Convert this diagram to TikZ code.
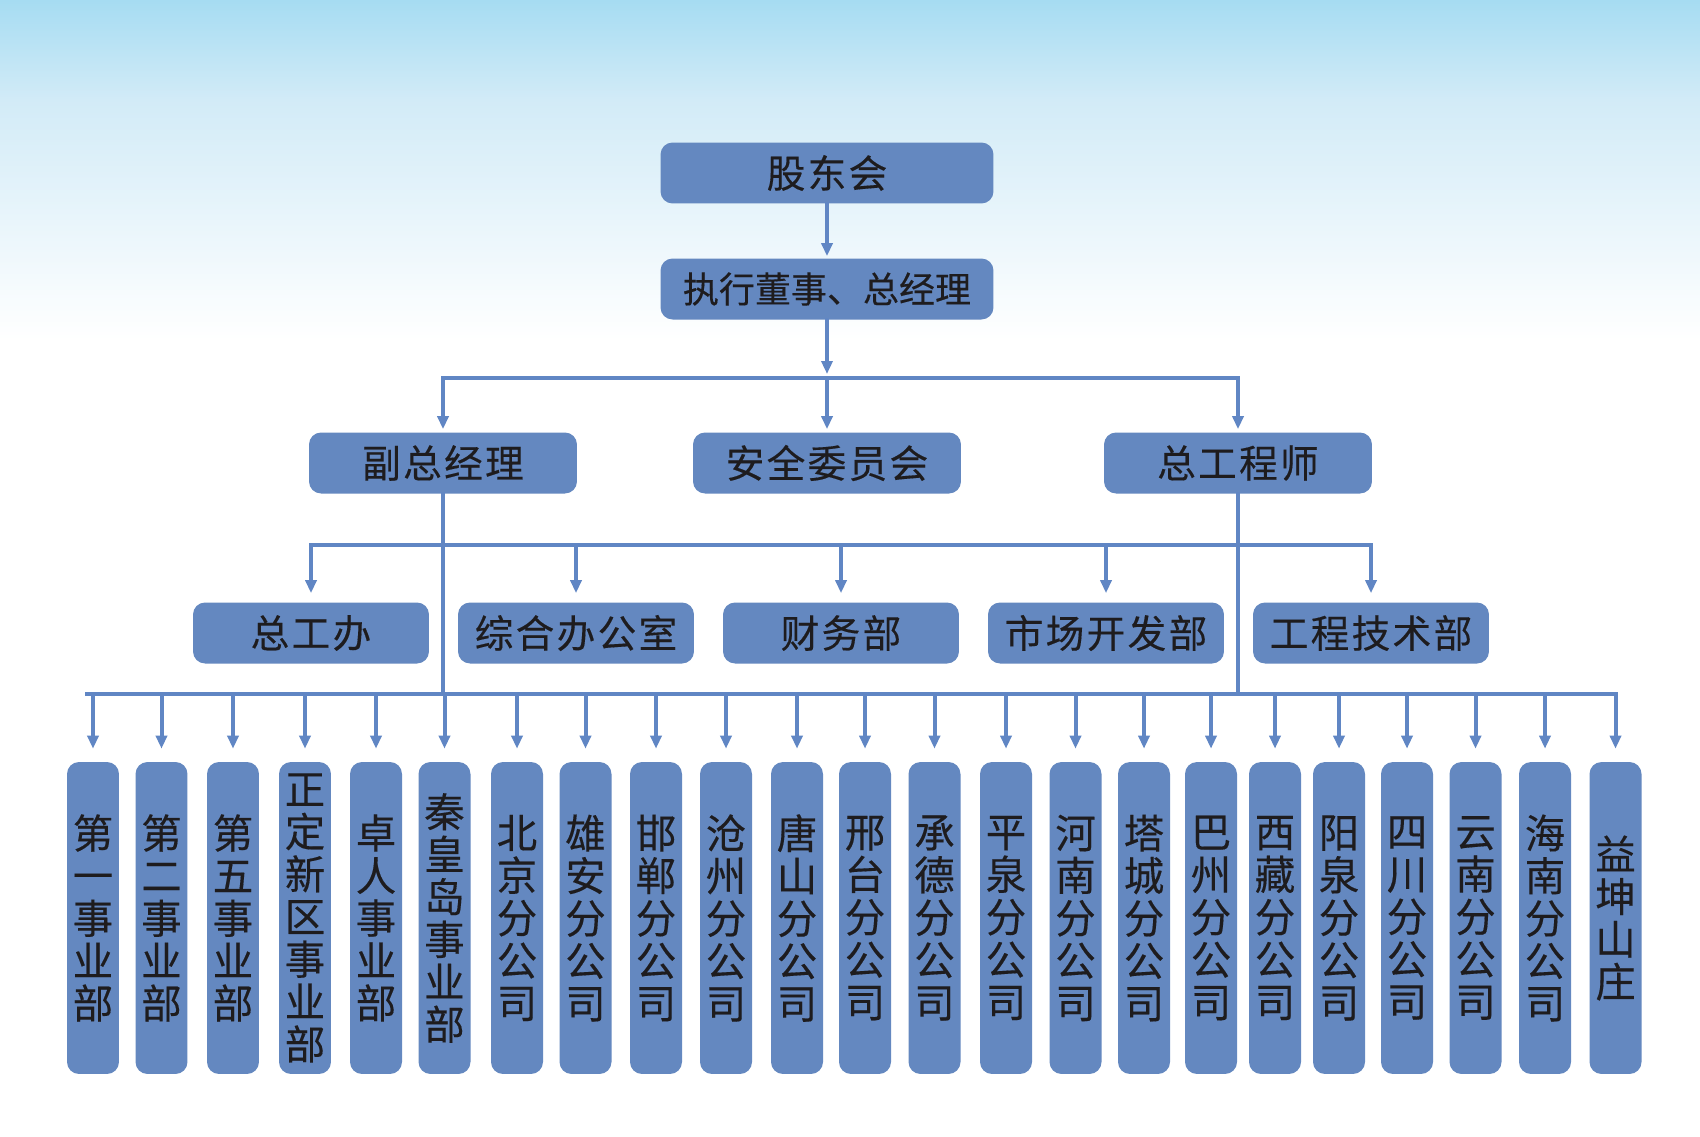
\documentclass[tikz,border=0pt]{standalone}
\usepackage{fontspec}
\newfontfamily\cjk[LetterSpace=6, FakeBold=0.3]{Noto Sans CJK SC}
\newfontfamily\cjkplain[FakeBold=0.3]{Noto Sans CJK SC}
\usepackage{tikz}
\usetikzlibrary{arrows.meta}
\definecolor{orgfill}{RGB}{100, 136, 192}
\definecolor{orgline}{RGB}{96, 134, 196}
\definecolor{skytop}{RGB}{166, 220, 242}
\definecolor{skymid}{RGB}{210, 235, 247}
\definecolor{orgtext}{RGB}{30, 28, 30}

\begin{document}
\begin{tikzpicture}[x=0.02cm, y=-0.02cm,
    orgbox/.style={fill=orgfill, rounded corners=0.24cm, text=orgtext, inner sep=0pt,
      minimum height=1.22cm, font=\cjk\fontsize{22pt}{23pt}\selectfont},
    topbox/.style={orgbox, minimum width=6.66cm},
    midbox/.style={orgbox, minimum width=5.36cm},
    deptbox/.style={orgbox, minimum width=4.72cm},
    unitbox/.style={orgbox, minimum width=1.04cm, minimum height=6.24cm, align=center,
      font=\cjkplain\fontsize{23pt}{24.2pt}\selectfont},
    link/.style={draw=orgline, line width=0.08cm, line cap=rect},
    arr/.style={link, -{Triangle[width=0.22cm, length=0.26cm]}},
  ]
  \useasboundingbox (0,0) rectangle (1700,1136);
  \fill[white] (0,0) rectangle (1700,1136);
  \shade[top color=skytop, bottom color=skymid] (0,0) rectangle (1700,100);
  \shade[top color=skymid, bottom color=white] (0,99) rectangle (1700,340);

  \node[topbox] (gdh) at (827,173) {股东会};
  \node[topbox, font=\cjkplain\fontsize{20.5pt}{21pt}\selectfont] (zjl) at (827,289) {执行董事、总经理};

  \node[midbox] (fzjl) at (443,463) {副总经理};
  \node[midbox] (aqwy) at (827,463) {安全委员会};
  \node[midbox] (zgcs) at (1238,463) {总工程师};

  \foreach \name [count=\i] in {总工办, 综合办公室, 财务部, 市场开发部, 工程技术部}
    \node[deptbox] (d\i) at (311+265*\i-265,633) {\name};

  % units, one column of characters each
  \foreach \x/\name [count=\i] in {
      93/{第\\一\\事\\业\\部}, 161.5/{第\\二\\事\\业\\部}, 233/{第\\五\\事\\业\\部},
      305/{正\\定\\新\\区\\事\\业\\部}, 376/{卓\\人\\事\\业\\部}, 444.5/{秦\\皇\\岛\\事\\业\\部},
      517/{北\\京\\分\\公\\司}, 585.5/{雄\\安\\分\\公\\司}, 656/{邯\\郸\\分\\公\\司},
      726/{沧\\州\\分\\公\\司}, 797/{唐\\山\\分\\公\\司}, 865/{邢\\台\\分\\公\\司},
      934.5/{承\\德\\分\\公\\司}, 1006/{平\\泉\\分\\公\\司}, 1075.5/{河\\南\\分\\公\\司},
      1144/{塔\\城\\分\\公\\司}, 1211/{巴\\州\\分\\公\\司}, 1275/{西\\藏\\分\\公\\司},
      1339/{阳\\泉\\分\\公\\司}, 1407/{四\\川\\分\\公\\司}, 1475.5/{云\\南\\分\\公\\司},
      1545/{海\\南\\分\\公\\司}, 1615.5/{益\\坤\\山\\庄}}
    \node[unitbox] (u\i) at (\x,918) {\name};

  % connectors
  \coordinate (b1) at (827,378);
  \coordinate (b2) at (827,545);
  \coordinate (b3) at (827,694);

  \draw[arr, shorten >=0.04cm] (gdh) -- (zjl);
  \draw[arr, shorten >=0.08cm] (zjl) -- (b1);
  \draw[link] (fzjl.north |- b1) -- (zgcs.north |- b1);
  \foreach \n in {fzjl, aqwy, zgcs}
    \draw[arr, shorten >=0.06cm] (\n.north |- b1) -- (\n.north);

  \draw[link] (d1.north |- b2) -- (d5.north |- b2);
  \foreach \i in {1,...,5}
    \draw[arr, shorten >=0.18cm] (d\i.north |- b2) -- (d\i.north);

  \draw[link] (fzjl) -- (fzjl |- b3);
  \draw[link] (zgcs) -- (zgcs |- b3);
  \draw[link] ([xshift=-0.12cm]u1.north |- b3) -- (u23.north |- b3);
  \foreach \i in {1,...,23}
    \draw[arr, shorten >=0.26cm] (u\i.north |- b3) -- (u\i.north);
\end{tikzpicture}
\end{document}
